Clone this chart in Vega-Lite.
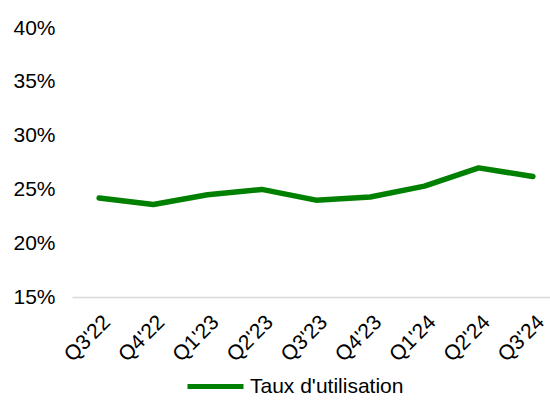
{
  "$schema": "https://vega.github.io/schema/vega-lite/v6.json",
  "width": 488,
  "height": 269,
  "autosize": {"type": "none"},
  "padding": {"left": 72, "top": 28, "right": 0, "bottom": 113},
  "background": "white",
  "config": {
    "font": "Liberation Sans",
    "view": {"stroke": null}
  },
  "data": {
    "values": [
      {"trimestre": "Q3'22", "taux": 0.242, "serie": "Taux d'utilisation"},
      {"trimestre": "Q4'22", "taux": 0.236, "serie": "Taux d'utilisation"},
      {"trimestre": "Q1'23", "taux": 0.245, "serie": "Taux d'utilisation"},
      {"trimestre": "Q2'23", "taux": 0.250, "serie": "Taux d'utilisation"},
      {"trimestre": "Q3'23", "taux": 0.240, "serie": "Taux d'utilisation"},
      {"trimestre": "Q4'23", "taux": 0.243, "serie": "Taux d'utilisation"},
      {"trimestre": "Q1'24", "taux": 0.253, "serie": "Taux d'utilisation"},
      {"trimestre": "Q2'24", "taux": 0.270, "serie": "Taux d'utilisation"},
      {"trimestre": "Q3'24", "taux": 0.262, "serie": "Taux d'utilisation"}
    ]
  },
  "mark": {"type": "line", "strokeWidth": 5.5, "strokeJoin": "round", "strokeCap": "round"},
  "encoding": {
    "x": {
      "field": "trimestre",
      "type": "ordinal",
      "sort": null,
      "title": null,
      "scale": {"paddingInner": 0, "paddingOuter": 0.5},
      "axis": {
        "labelAngle": -45,
        "labelFontSize": 21,
        "labelColor": "black",
        "labelPadding": 14,
        "ticks": false,
        "domain": true,
        "domainColor": "#d9d9d9",
        "domainWidth": 1.5,
        "grid": false
      }
    },
    "y": {
      "field": "taux",
      "type": "quantitative",
      "title": null,
      "scale": {"domain": [0.15, 0.4], "nice": false, "zero": false},
      "axis": {
        "values": [0.15, 0.2, 0.25, 0.3, 0.35, 0.4],
        "format": ".0%",
        "labelFontSize": 21,
        "labelColor": "black",
        "labelPadding": 17,
        "ticks": false,
        "domain": false,
        "grid": false
      }
    },
    "color": {
      "field": "serie",
      "type": "nominal",
      "scale": {"range": ["#008000"]},
      "legend": {
        "title": null,
        "orient": "none",
        "legendX": 113,
        "legendY": 328,
        "direction": "horizontal",
        "symbolType": "stroke",
        "symbolSize": 3136,
        "symbolStrokeWidth": 5,
        "labelFontSize": 21,
        "labelColor": "black",
        "labelLimit": 400,
        "labelOffset": 4
      }
    }
  }
}
